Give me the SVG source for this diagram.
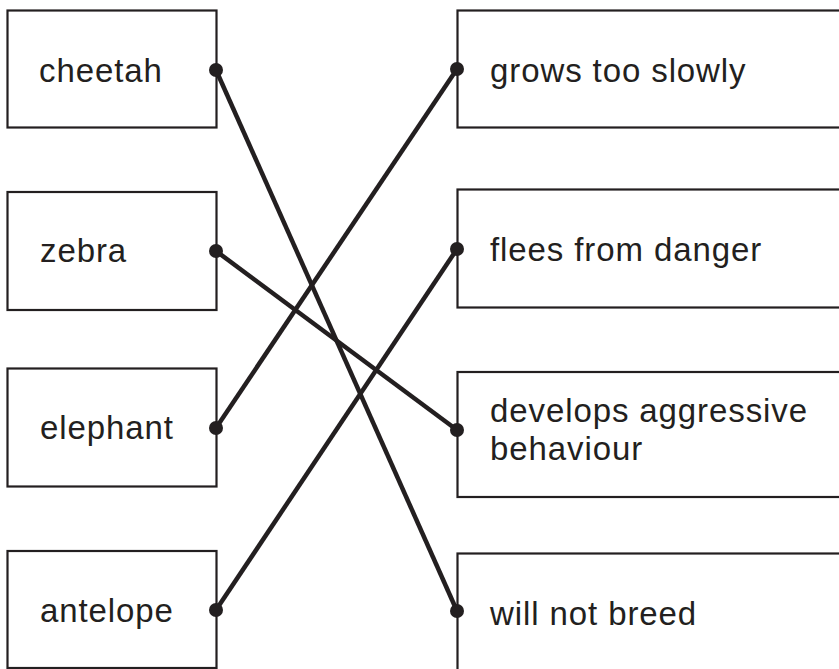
<svg xmlns="http://www.w3.org/2000/svg" width="839" height="669" viewBox="0 0 839 669">
<style>
.box{fill:#fff;stroke:#231f20;stroke-width:2.2}
.lbl{font-family:"Liberation Sans",Arial,Helvetica,sans-serif;font-size:33px;fill:#231f20;letter-spacing:0.9px}
.con{stroke:#231f20;stroke-width:4.5;fill:none}
.dot{fill:#231f20}
</style>
<rect width="839" height="669" fill="#fff"/>
<g id="cheetah"><rect class="box" x="7.5" y="10.5" width="209" height="117"/><text class="lbl" x="39" y="82">cheetah</text></g>
<g id="zebra"><rect class="box" x="7.5" y="192" width="209" height="118"/><text class="lbl" x="40" y="262">zebra</text></g>
<g id="elephant"><rect class="box" x="7.5" y="368.5" width="209" height="118"/><text class="lbl" x="40" y="439">elephant</text></g>
<g id="antelope"><rect class="box" x="7.5" y="551" width="209" height="117"/><text class="lbl" x="40" y="622">antelope</text></g>
<g id="grows"><rect class="box" x="457.5" y="10.5" width="400" height="117"/><text class="lbl" x="490" y="82">grows too slowly</text></g>
<g id="flees"><rect class="box" x="457.5" y="189.5" width="400" height="118"/><text class="lbl" x="490" y="261">flees from danger</text></g>
<g id="develops"><rect class="box" x="457.5" y="372" width="400" height="125"/><text class="lbl" x="490" y="422">develops aggressive</text><text class="lbl" x="490" y="460">behaviour</text></g>
<g id="breed"><rect class="box" x="457.5" y="553.5" width="400" height="130"/><text class="lbl" x="490" y="625">will not breed</text></g>
<g id="connectors">
<line class="con" x1="216" y1="70" x2="457" y2="611"/>
<line class="con" x1="216" y1="251" x2="457" y2="430"/>
<line class="con" x1="216" y1="428" x2="457" y2="69"/>
<line class="con" x1="216" y1="610" x2="457" y2="249"/>
<circle class="dot" cx="216" cy="70" r="7"/>
<circle class="dot" cx="216" cy="251" r="7"/>
<circle class="dot" cx="216" cy="428" r="7"/>
<circle class="dot" cx="216" cy="610" r="7"/>
<circle class="dot" cx="457" cy="69" r="7"/>
<circle class="dot" cx="457" cy="249" r="7"/>
<circle class="dot" cx="457" cy="430" r="7"/>
<circle class="dot" cx="457" cy="611" r="7"/>
</g>
</svg>
